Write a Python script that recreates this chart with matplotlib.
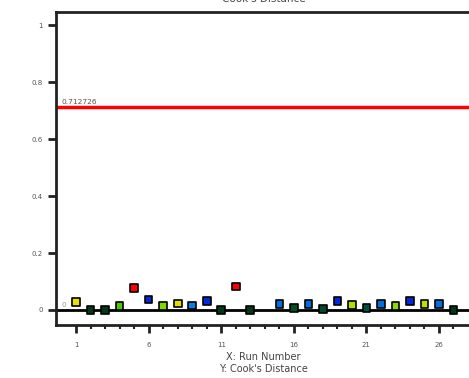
import matplotlib.pyplot as plt
import numpy as np

# Cook's distance per run (run 14 has no value)
runs = [1, 2, 3, 4, 5, 6, 7, 8, 9, 10, 11, 12, 13,
        15, 16, 17, 18, 19, 20, 21, 22, 23, 24, 25, 26, 27]
cooks = [0.029, 0.0, 0.0, 0.014, 0.078, 0.037, 0.013, 0.023, 0.016, 0.032, 0.0, 0.082, 0.0,
         0.020, 0.008, 0.020, 0.003, 0.032, 0.018, 0.006, 0.021, 0.015, 0.032, 0.020, 0.022, 0.0]
point_colors = ["#e8e000", "#003818", "#003818", "#50c800", "#ff0000", "#0028d8", "#80d800",
                "#e0e000", "#0080e8", "#0028d8", "#003818", "#ff0000", "#003818",
                "#0070e0", "#005020", "#0070e0", "#004830", "#0028d8", "#b0e000", "#005040",
                "#0070e0", "#90d800", "#0028d8", "#b8e000", "#0070e0", "#003818"]
limit = 0.712726

fig = plt.figure(figsize=(4.69, 3.78), dpi=100)
ax = fig.add_axes([0.119, 0.14, 0.885, 0.828])

ax.axhline(limit, color="#ff0000", lw=2.5, zorder=2)
ax.axhline(0, color="black", lw=2, zorder=2)
ax.scatter(runs, cooks, marker="s", s=30, c=point_colors, edgecolors="black",
           linewidths=1.2, zorder=3)

ax.text(0.0, limit + 0.006, "0.712726", fontsize=5.3, color="#555555", va="bottom")
ax.text(0.0, 0.006, "0", fontsize=5.3, color="#999999", va="bottom")

ax.set_xlim(-0.4, 28.2)
ax.set_ylim(-0.053, 1.046)
ax.set_xticks([1, 6, 11, 16, 21, 26])
ax.set_xticks(np.arange(1, 28), minor=True)
ax.set_yticks([0, 0.2, 0.4, 0.6, 0.8, 1])
ax.set_yticklabels(["0", "0.2", "0.4", "0.6", "0.8", "1"])
ax.tick_params(axis="both", which="major", labelsize=5, labelcolor="#555555",
               width=2, length=6, color="#222222")
ax.tick_params(axis="x", which="minor", width=1.5, length=3, color="#222222")
ax.tick_params(axis="y", which="minor", left=False)
ax.tick_params(axis="x", pad=6)

for side in ["left", "top", "bottom"]:
    ax.spines[side].set_linewidth(2)
    ax.spines[side].set_color("#222222")
ax.spines["right"].set_visible(False)

ax.set_title("Cook's Distance", fontsize=7.5, color="#444444", pad=7)
ax.set_xlabel("X: Run Number\nY: Cook's Distance", fontsize=7, color="#444444",
              labelpad=3, linespacing=1.3)

fig.savefig("out.png", dpi=100)
